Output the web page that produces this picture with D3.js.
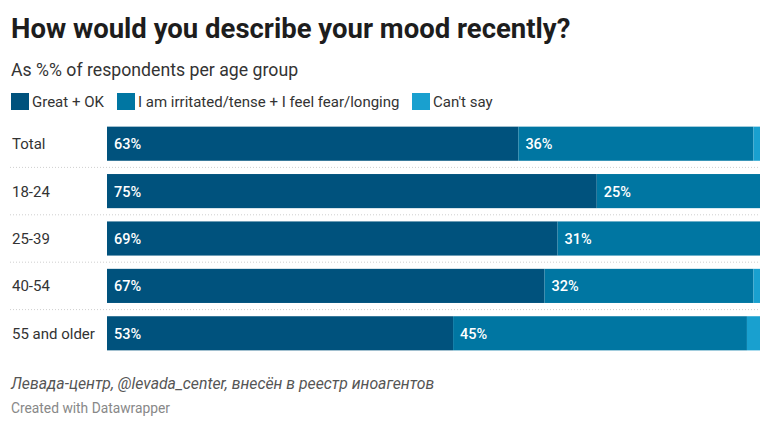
<!DOCTYPE html>
<html>
<head>
<meta charset="utf-8">
<script src="https://cdn.jsdelivr.net/npm/d3@7"></script>
<style>
  body { margin: 0; background: #fff; }
  svg { font-family: Roboto, "Noto Sans", sans-serif; }
</style>
</head>
<body>
<svg id="chart"></svg>
<script>
// data
const groups = ["Total", "18-24", "25-39", "40-54", "55 and older"];
const seriesNames = ["Great + OK", "I am irritated/tense + I feel fear/longing", "Can't say"];
const greatOk = [63, 75, 69, 67, 53];
const irritated = [36, 25, 31, 32, 45];
const cantSay = [1, 0, 0, 1, 2];
const colors = ["#00527d", "#0076a2", "#19a0cf"];

const width = 767, height = 426;
const svg = d3.select("#chart").attr("width", width).attr("height", height);

// header
svg.append("text").attr("x", 11).attr("y", 38)
  .attr("font-size", 27.5).attr("font-weight", 700).attr("fill", "#1d1d1d")
  .text("How would you describe your mood recently?");
svg.append("text").attr("x", 11).attr("y", 76)
  .attr("font-size", 17.7).attr("fill", "#333")
  .text("As %% of respondents per age group");

// legend
const legendX = [11, 117, 412];
seriesNames.forEach((name, i) => {
  svg.append("rect").attr("x", legendX[i]).attr("y", 93)
    .attr("width", 18).attr("height", 17).attr("fill", colors[i]);
  svg.append("text").attr("x", legendX[i] + 21).attr("y", 106.5)
    .attr("font-size", 15).attr("fill", "#333").text(name);
});

// stacked rows
const rows = groups.map((g, i) => ({ group: g, vals: [greatOk[i], irritated[i], cantSay[i]] }));
const x = d3.scaleLinear().domain([0, 100]).range([107, 760]);
const y = d3.scaleBand().domain(groups).range([120, 357]).paddingInner(0.28).paddingOuter(0.14);

const rowG = svg.append("g").selectAll("g").data(rows).join("g")
  .attr("transform", d => `translate(0,${y(d.group)})`);

rowG.append("text").attr("x", 12).attr("y", y.bandwidth() / 2 + 5.5)
  .attr("font-size", 15).attr("fill", "#333").text(d => d.group);

rowG.each(function(d) {
  const g = d3.select(this);
  let acc = 0;
  d.vals.forEach((v, k) => {
    if (v <= 0) return;
    g.append("rect").attr("x", x(acc)).attr("y", 0)
      .attr("width", x(acc + v) - x(acc)).attr("height", y.bandwidth())
      .attr("fill", colors[k]);
    if (k < 2) {
      g.append("text").attr("x", x(acc) + 7).attr("y", y.bandwidth() / 2 + 5.5)
        .attr("font-size", 14.5).attr("font-weight", 500).attr("fill", "#fff")
        .text(v + "%");
    }
    acc += v;
  });
});

// dotted separators between rows
svg.append("g").selectAll("line").data(groups.slice(1)).join("line")
  .attr("x1", 10).attr("x2", 760)
  .attr("y1", d => y(d) - (y.step() - y.bandwidth()) / 2)
  .attr("y2", d => y(d) - (y.step() - y.bandwidth()) / 2)
  .attr("stroke", "#cfcfcf").attr("stroke-dasharray", "1,2");

// footer
svg.append("text").attr("x", 11).attr("y", 389)
  .attr("font-size", 15.8).attr("font-style", "italic").attr("fill", "#555")
  .text("Левада-центр, @levada_center, внесён в реестр иноагентов");
svg.append("text").attr("x", 11).attr("y", 413)
  .attr("font-size", 13.8).attr("fill", "#888")
  .text("Created with Datawrapper");
</script>
</body>
</html>
